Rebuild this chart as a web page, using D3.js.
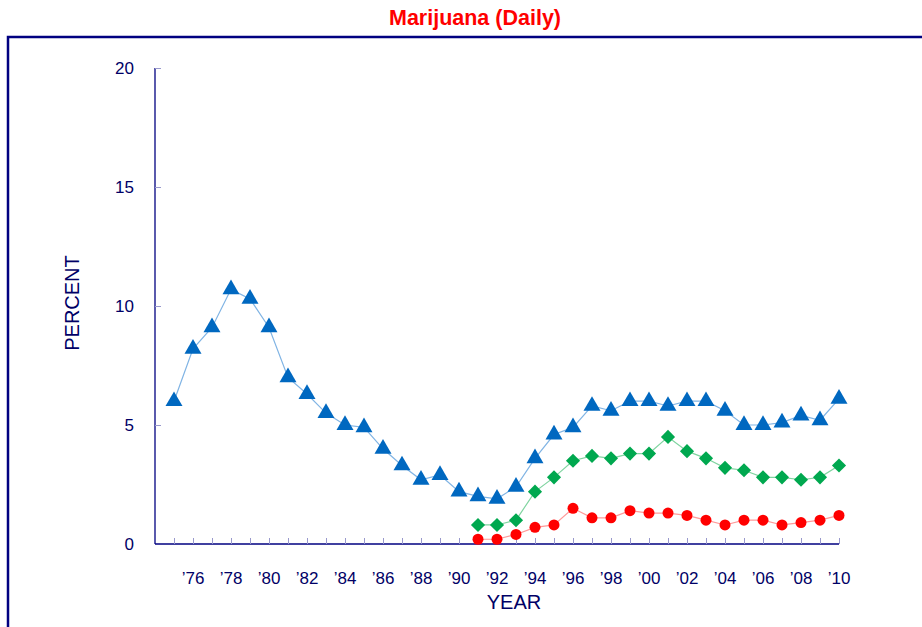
<!DOCTYPE html>
<html>
<head>
<meta charset="utf-8">
<script src="https://cdn.jsdelivr.net/npm/d3@7"></script>
<style>
  body { margin: 0; background: #fff; }
  svg { display: block; font-family: "Liberation Sans", Arial, sans-serif; }
</style>
</head>
<body>
<svg width="922" height="627"></svg>
<script>
// data
const years = d3.range(1975, 2011);
const grade12 = [6.0, 8.2, 9.1, 10.7, 10.3, 9.1, 7.0, 6.3, 5.5, 5.0, 4.9, 4.0, 3.3, 2.7, 2.9, 2.2,
  2.0, 1.9, 2.4, 3.6, 4.6, 4.9, 5.8, 5.6, 6.0, 6.0, 5.8, 6.0, 6.0, 5.6, 5.0, 5.0, 5.1, 5.4, 5.2, 6.1];
const years10 = d3.range(1991, 2011);
const grade10 = [0.8, 0.8, 1.0, 2.2, 2.8, 3.5, 3.7, 3.6, 3.8, 3.8, 4.5, 3.9, 3.6, 3.2, 3.1, 2.8, 2.8, 2.7, 2.8, 3.3];
const years8 = d3.range(1991, 2011);
const grade8 = [0.2, 0.2, 0.4, 0.7, 0.8, 1.5, 1.1, 1.1, 1.4, 1.3, 1.3, 1.2, 1.0, 0.8, 1.0, 1.0, 0.8, 0.9, 1.0, 1.2];
const yTicks = [0, 5, 10, 15, 20];
const xLabelYears = d3.range(1976, 2011, 2);

const navy = "#000080";
const svg = d3.select("svg");
let margin = {top: 68, left: 155, right: 84, bottom: 83}; // plot box edges
const w = 922, h = 627;

const x = d3.scaleLinear().domain([1974, 2010]).range([margin.left, w - margin.right + 1]);
const y = d3.scaleLinear().domain([0, 20]).range([h - margin.bottom, margin.top]);

// frame round the chart (left and top only)
svg.append("path")
  .attr("d", "M8,627 V37 H922")
  .attr("fill", "none").attr("stroke", navy).attr("stroke-width", 2.5);

svg.append("text")
  .attr("x", 475).attr("y", 25)
  .attr("text-anchor", "middle")
  .attr("fill", "#ff0000").attr("font-weight", "bold").attr("font-size", 21.5)
  .text("Marijuana (Daily)");

// y axis - ticks point inward
const yAxis = d3.axisRight(y).tickValues(yTicks).tickSize(6).tickFormat("");
const gy = svg.append("g").attr("transform", "translate(" + margin.left + ",0)").call(yAxis);
gy.select(".domain").attr("stroke", navy).attr("stroke-width", 1.3).attr("d", "M0," + y(0) + "V" + y(20));
gy.selectAll(".tick line").attr("stroke", "#9999cc");
gy.selectAll(".tick").filter(d => d === 0).remove();
svg.append("g").selectAll("text").data(yTicks).enter().append("text")
  .attr("x", 134).attr("y", d => y(d) + 6)
  .attr("text-anchor", "end").attr("fill", "#000066").attr("font-size", 17)
  .text(d => d);

// x axis - ticks at every year pointing up
const xAxis = d3.axisTop(x).tickValues(years).tickSize(6).tickFormat("");
const gx = svg.append("g").attr("transform", "translate(0," + y(0) + ")").call(xAxis);
gx.select(".domain").attr("stroke", navy).attr("stroke-width", 1.5).attr("d", "M" + margin.left + ",0H" + x(2010));
gx.selectAll(".tick line").attr("stroke", "#9999cc");
svg.append("g").selectAll("text").data(xLabelYears).enter().append("text")
  .attr("x", d => x(d)).attr("y", 584)
  .attr("text-anchor", "middle").attr("fill", "#000066").attr("font-size", 17)
  .text(d => "\u2019" + String(d).slice(2));

svg.append("text")
  .attr("x", 514).attr("y", 609).attr("text-anchor", "middle")
  .attr("fill", "#000066").attr("font-size", 20).text("YEAR");
svg.append("text")
  .attr("transform", "translate(79,303) rotate(-90)").attr("text-anchor", "middle")
  .attr("fill", "#000066").attr("font-size", 20).text("PERCENT");

function drawSeries(xs, vals, lineColor, fill, symbol, size, rot) {
  const pts = xs.map((yr, i) => [yr, vals[i]]);
  const line = d3.line().x(d => x(d[0])).y(d => y(d[1]));
  svg.append("path").datum(pts)
    .attr("d", line).attr("fill", "none").attr("stroke", lineColor).attr("stroke-width", 1.2);
  svg.append("g").selectAll("path").data(pts).enter().append("path")
    .attr("d", d3.symbol().type(symbol).size(size))
    .attr("transform", d => "translate(" + x(d[0]) + "," + y(d[1]) + ") rotate(" + rot + ")")
    .attr("fill", fill);
}

drawSeries(years8, grade8, "#ff9999", "#ff0000", d3.symbolCircle, 95, 0);
drawSeries(years10, grade10, "#80d4a0", "#00a84f", d3.symbolSquare, 100, 45);
drawSeries(years, grade12, "#80b4e4", "#0068c0", d3.symbolTriangle, 125, 0);
</script>
</body>
</html>
